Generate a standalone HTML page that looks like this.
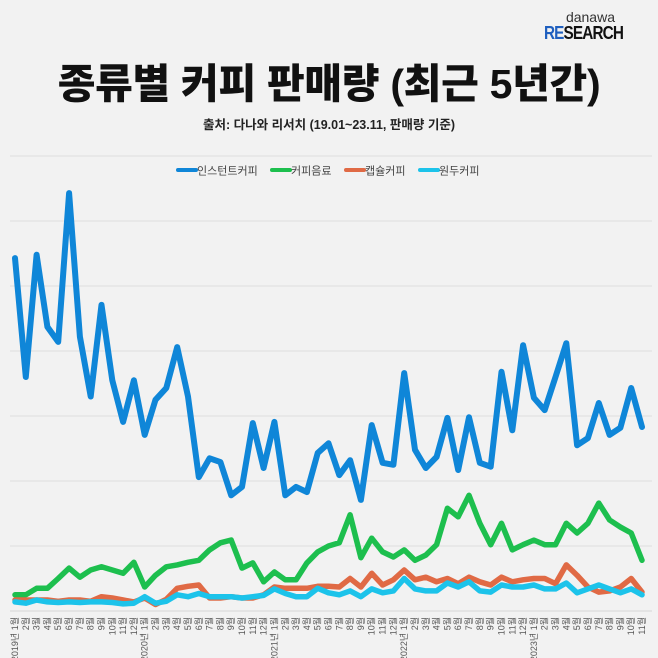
<!DOCTYPE html>
<html><head><meta charset="utf-8">
<style>
html,body{margin:0;padding:0;background:#f2f2f2;}
body{width:658px;height:658px;overflow:hidden;position:relative;font-family:"Liberation Sans","Noto Sans CJK KR",sans-serif;}
#title{position:absolute;left:0;width:658px;top:50px;text-align:center;font-size:41px;font-weight:900;color:#111;letter-spacing:-0.3px;}
#sub{position:absolute;left:0;width:658px;top:114px;text-align:center;font-size:12.5px;font-weight:700;color:#222;}
#logo{position:absolute;right:28px;top:10px;text-align:center;line-height:1;}
</style></head><body>
<div id="logo">
<div style="font-size:14px;color:#333;margin-left:14px">danawa</div>
<div style="font-size:18px;font-weight:900;letter-spacing:-1px;transform:scaleX(0.85)"><span style="color:#1f5fbf">RE</span><span style="color:#111">SEARCH</span></div>
</div>
<div id="title">종류별 커피 판매량 (최근 5년간)</div>
<div id="sub">출처: 다나와 리서치 (19.01~23.11, 판매량 기준)</div>
<svg id="chart" width="658" height="658" style="position:absolute;left:0;top:0" xmlns="http://www.w3.org/2000/svg"></svg>
<script>
const instant=[5.43,3.6,5.48,4.37,4.14,6.43,4.22,3.3,4.71,3.55,2.91,3.55,2.71,3.25,3.43,4.06,3.3,2.06,2.35,2.29,1.78,1.91,2.89,2.2,2.91,1.78,1.91,1.83,2.43,2.58,2.09,2.32,1.71,2.86,2.28,2.25,3.66,2.48,2.2,2.37,2.97,2.17,2.98,2.28,2.22,3.68,2.78,4.09,3.28,3.09,3.6,4.12,2.55,2.66,3.2,2.71,2.82,3.43,2.83];
const beverage=[0.25,0.25,0.35,0.35,0.5,0.66,0.52,0.63,0.68,0.63,0.58,0.75,0.37,0.55,0.68,0.71,0.75,0.78,0.94,1.05,1.09,0.66,0.74,0.45,0.6,0.48,0.48,0.74,0.91,1.0,1.05,1.48,0.82,1.12,0.91,0.83,0.94,0.78,0.86,1.02,1.58,1.45,1.78,1.35,1.02,1.35,0.94,1.02,1.09,1.02,1.02,1.35,1.2,1.35,1.66,1.4,1.29,1.2,0.78];
const capsule=[0.17,0.17,0.17,0.17,0.15,0.17,0.17,0.15,0.22,0.2,0.17,0.14,0.2,0.1,0.18,0.35,0.38,0.4,0.2,0.2,0.22,0.2,0.2,0.25,0.37,0.35,0.35,0.35,0.38,0.38,0.37,0.5,0.37,0.58,0.4,0.48,0.63,0.48,0.52,0.45,0.5,0.42,0.52,0.45,0.4,0.52,0.45,0.48,0.5,0.5,0.42,0.71,0.55,0.37,0.29,0.31,0.37,0.5,0.29];
const bean=[0.14,0.12,0.17,0.14,0.13,0.14,0.13,0.14,0.14,0.13,0.11,0.12,0.22,0.12,0.15,0.25,0.22,0.27,0.22,0.22,0.22,0.2,0.22,0.24,0.34,0.27,0.22,0.22,0.35,0.28,0.25,0.31,0.22,0.34,0.28,0.31,0.5,0.34,0.31,0.31,0.43,0.37,0.45,0.31,0.29,0.4,0.37,0.37,0.4,0.34,0.34,0.43,0.28,0.34,0.4,0.34,0.28,0.34,0.25];
const seriesNames=["인스턴트커피","커피음료","캡슐커피","원두커피"];
const seriesColors=["#0f86d8","#1dbf4e","#e06a45","#1cc3ea"];
const gridTicks=[0,1,2,3,4,5,6,7];
const NS="http://www.w3.org/2000/svg";
const svg=document.getElementById('chart');
const x0=15,x1=642,yBase=611,unit=65;
const n=instant.length;
const X=i=>x0+(x1-x0)*i/(n-1);
const Y=v=>yBase-v*unit;
function mk(t,a){const e=document.createElementNS(NS,t);for(const k in a)e.setAttribute(k,a[k]);svg.appendChild(e);return e;}
gridTicks.forEach(t=>{
 const l=mk('line',{x1:10,x2:652,y1:Y(t),y2:Y(t),stroke:t===0?'#d6d6d6':'#dedede','stroke-width':1});
 
 
});
const lx=[178,272,346,420];
seriesNames.forEach((s,i)=>{
 const ln=mk('line',{x1:lx[i],x2:lx[i]+18,y1:170,y2:170,stroke:seriesColors[i],'stroke-width':4,'stroke-linecap':'round'});
 
 
 const tx=mk('text',{x:lx[i]+19,y:174.5,'font-size':11,fill:'#444','font-family':'"Liberation Sans","Noto Sans CJK KR",sans-serif'});
 tx.textContent=s;
 
 
});
for(let i=0;i<n;i++){
 const m=i%12+1, yr=2019+Math.floor(i/12);
 const lab=(m===1?yr+'년 ':'')+m+'월';
 const tx=mk('text',{x:0,y:0,'font-size':9,fill:'#555','text-anchor':'end',transform:`translate(${X(i)+3},${617}) rotate(-90)`,'font-family':'"Liberation Sans","Noto Sans CJK KR",sans-serif'});
 tx.textContent=lab;
 
 
}
const data=[instant,beverage,capsule,bean];
const names=['line-instant-coffee','line-coffee-beverage','line-capsule-coffee','line-bean-coffee'];
[1,2,3,0].forEach(k=>{
 const d=data[k].map((v,i)=>(i?'L':'M')+X(i).toFixed(1)+' '+Y(v).toFixed(1)).join(' ');
 const p=mk('path',{d:d,fill:'none',stroke:seriesColors[k],'stroke-width':k===0?6:5.5,'stroke-linejoin':'round','stroke-linecap':'round'});
 
 
});
</script>
</body></html>
